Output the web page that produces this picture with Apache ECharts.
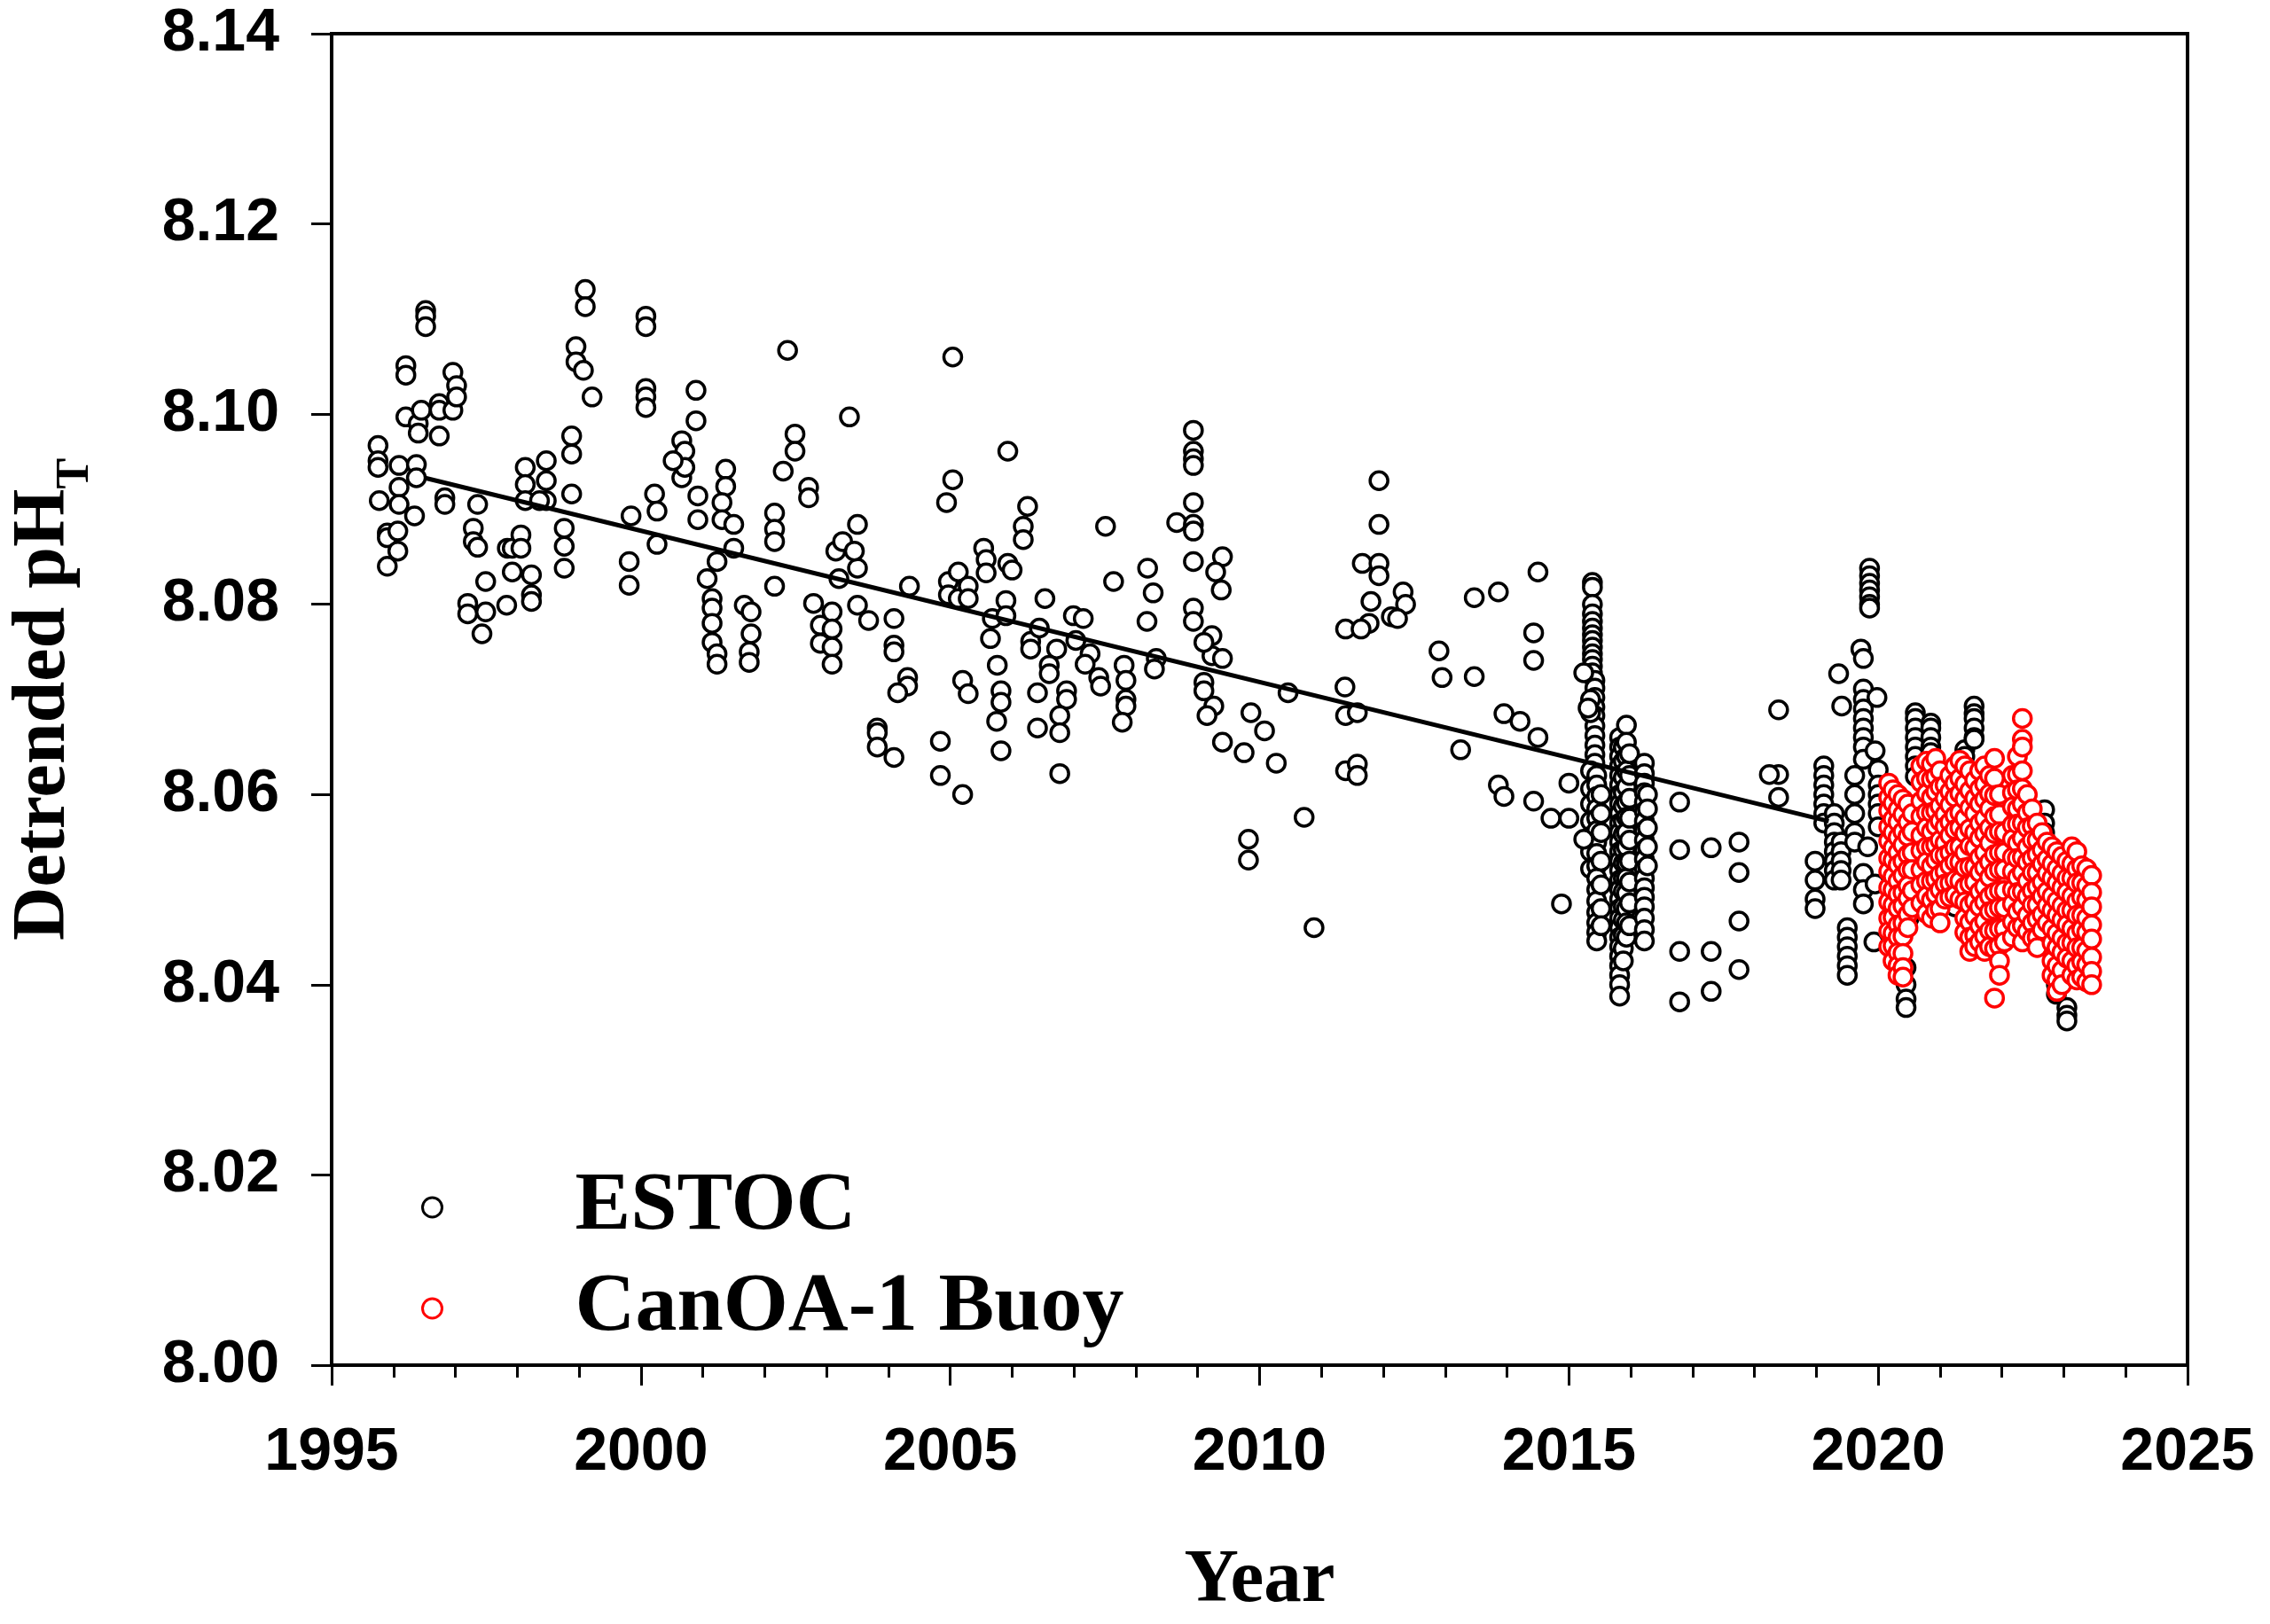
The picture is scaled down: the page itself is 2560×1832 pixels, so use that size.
<!DOCTYPE html>
<html>
<head>
<meta charset="utf-8">
<script src="https://cdn.jsdelivr.net/npm/echarts/dist/echarts.min.js"></script>
<style>
html,body{margin:0;padding:0;background:#fff;}
#chart{width:2560px;height:1832px;}
</style>
</head>
<body>
<div id="chart"></div>
<script>
// ---- data (year, [detrended pH values]) ----
var estocGroups = [
  [1995.75,[8.0967,8.0951,8.0944]],[1995.77,[8.0909]],[1995.90,[8.0875,8.0870,8.0840]],
  [1996.07,[8.0877,8.0856]],[1996.09,[8.0946,8.0923,8.0905]],[1996.20,[8.1051,8.1041,8.0997]],
  [1996.37,[8.0947,8.0933]],[1996.34,[8.0893]],[1996.40,[8.0990,8.0980]],[1996.45,[8.1004]],
  [1996.52,[8.1109,8.1103,8.1092]],[1996.74,[8.1011,8.1004,8.0977]],[1996.83,[8.0912,8.0905]],
  [1996.96,[8.1044,8.1004]],[1997.02,[8.1030,8.1018]],[1997.29,[8.0880,8.0866]],[1997.36,[8.0905,8.0860]],
  [1997.20,[8.0801,8.0790]],[1997.43,[8.0769]],[1997.49,[8.0824,8.0792]],[1997.83,[8.0799]],
  [1997.84,[8.0859]],[1997.92,[8.0859,8.0834]],[1998.06,[8.0873,8.0859]],[1998.23,[8.0831,8.0810,8.0803]],
  [1998.13,[8.0944,8.0926,8.0909]],[1998.47,[8.0951,8.0930,8.0909]],[1998.36,[8.0909]],
  [1998.76,[8.0880,8.0861,8.0838]],[1998.88,[8.0977,8.0958,8.0916]],[1998.95,[8.1071,8.1055]],
  [1999.07,[8.1046]],[1999.21,[8.1018]],[1999.10,[8.1131,8.1113]],[1999.84,[8.0893]],[1999.81,[8.0845,8.0820]],
  [2000.08,[8.1103,8.1092,8.1027,8.1018,8.1007]],[2000.22,[8.0916]],[2000.26,[8.0898,8.0863]],
  [2000.66,[8.0972,8.0933]],[2000.71,[8.0961,8.0944]],[2000.52,[8.0951]],[2000.89,[8.1025,8.0993]],
  [2000.92,[8.0914,8.0889]],[2001.07,[8.0827]],[2001.23,[8.0845]],[2001.15,[8.0806,8.0796,8.0780,8.0760]],
  [2001.23,[8.0748,8.0737]],[2001.37,[8.0942,8.0924]],[2001.31,[8.0907,8.0889]],[2001.50,[8.0884,8.0859]],
  [2001.67,[8.0799]],[2001.78,[8.0792,8.0769]],[2001.75,[8.0750,8.0739]],
  [2002.16,[8.0896,8.0879,8.0866,8.0819]],[2002.30,[8.0940]],[2002.49,[8.0979,8.0961]],[2002.37,[8.1067]],
  [2002.71,[8.0923,8.0912]],[2002.79,[8.0801]],[2002.90,[8.0778,8.0759]],[2003.09,[8.0792,8.0774,8.0755,8.0737]],
  [2003.15,[8.0856]],[2003.20,[8.0827]],[2003.26,[8.0866]],[2003.37,[8.0997]],[2003.50,[8.0884,8.0838,8.0799]],
  [2003.45,[8.0856]],[2003.68,[8.0783]],[2004.09,[8.0785,8.0757,8.0750]],[2004.31,[8.0723,8.0714]],
  [2004.15,[8.0707]],[2003.82,[8.0670,8.0665,8.0650]],[2004.09,[8.0639]],[2004.34,[8.0819]],
  [2004.84,[8.0656,8.0620]],[2004.97,[8.0824,8.0810]],[2005.13,[8.0834,8.0806]],[2005.29,[8.0819,8.0806]],
  [2005.04,[8.1060,8.0931]],[2004.94,[8.0907]],[2005.20,[8.0720,8.0600]],[2005.29,[8.0706]],
  [2005.54,[8.0859]],[2005.58,[8.0847,8.0833]],[2005.68,[8.0785]],[2005.65,[8.0764]],[2005.76,[8.0736]],
  [2005.82,[8.0709,8.0697,8.0646]],[2005.75,[8.0677]],[2005.90,[8.0804,8.0788]],[2005.93,[8.0961,8.0843]],
  [2006.00,[8.0836]],[2006.25,[8.0903]],[2006.18,[8.0882,8.0868]],[2006.30,[8.0761,8.0753]],[2006.44,[8.0775]],
  [2006.53,[8.0806]],[2006.72,[8.0753]],[2006.60,[8.0736,8.0727]],[2006.41,[8.0707,8.0670]],
  [2006.88,[8.0709,8.0700]],[2006.77,[8.0683,8.0665,8.0622]],[2006.99,[8.0788]],[2007.15,[8.0785]],
  [2007.03,[8.0762]],[2007.26,[8.0748]],[2007.18,[8.0737]],[2007.40,[8.0723]],[2007.43,[8.0714]],
  [2007.51,[8.0882]],[2007.64,[8.0824]],[2007.81,[8.0736]],[2007.84,[8.0720,8.0700,8.0693]],[2007.78,[8.0676]],
  [2008.19,[8.0838]],[2008.28,[8.0812]],[2008.18,[8.0782]],[2008.33,[8.0743]],[2008.30,[8.0732]],[2008.66,[8.0886]],
  [2008.93,[8.0983,8.0961,8.0953,8.0946,8.0907,8.0884,8.0877,8.0845,8.0796,8.0782]],
  [2009.23,[8.0767,8.0746]],[2009.10,[8.0760,8.0718,8.0709]],[2009.40,[8.0850,8.0743,8.0655]],
  [2009.29,[8.0834]],[2009.38,[8.0815]],[2009.26,[8.0693]],[2009.15,[8.0683]],[2009.75,[8.0644]],
  [2009.86,[8.0686]],[2009.82,[8.0553,8.0531]],[2010.08,[8.0667]],[2010.27,[8.0633]],[2010.46,[8.0707]],
  [2010.72,[8.0576]],[2010.88,[8.0460]],
  [2011.38,[8.0713]],[2011.39,[8.0774,8.0683,8.0625]],[2011.58,[8.0686,8.0632,8.0620]],[2011.66,[8.0843]],
  [2011.93,[8.0930,8.0884,8.0843,8.0830]],[2011.80,[8.0803]],[2011.77,[8.0780]],[2011.64,[8.0774]],
  [2012.13,[8.0787]],[2012.32,[8.0813]],[2012.36,[8.0800]],[2012.23,[8.0785]],[2012.90,[8.0751]],
  [2012.95,[8.0723]],[2013.47,[8.0807,8.0724]],[2013.86,[8.0813]],[2014.50,[8.0834]],[2014.43,[8.0770,8.0741]],
  [2013.25,[8.0647]],[2013.95,[8.0685]],[2014.21,[8.0677]],[2014.50,[8.0660]],[2013.86,[8.0610]],
  [2013.95,[8.0598]],[2014.43,[8.0593]],[2014.71,[8.0575]],[2015.00,[8.0612,8.0575]],[2014.88,[8.0485]],
  [2015.38,[8.0823,8.0818,8.0800,8.0790,8.0782,8.0775,8.0768,8.0762,8.0755,8.0748,8.0742,8.0735,8.0728]],
  [2015.42,[8.0720,8.0712,8.0702,8.0692,8.0683,8.0672,8.0662,8.0652,8.0642,8.0633]],
  [2015.35,[8.0700,8.0686,8.0625,8.0606,8.0590,8.0572,8.0556,8.0540,8.0522]],
  [2015.45,[8.0620,8.0610,8.0598,8.0585,8.0575,8.0562,8.0550,8.0538,8.0525,8.0512,8.0500,8.0488,8.0476,8.0465,8.0455,8.0446]],
  [2015.52,[8.0600,8.0580,8.0560,8.0530,8.0505,8.0480,8.0462]],
  [2015.24,[8.0728,8.0553]],[2015.31,[8.0691]],
  [2015.82,[8.0660,8.0650,8.0640,8.0630,8.0620,8.0610,8.0600,8.0590,8.0580,8.0570,8.0560,8.0550,8.0540,8.0530,8.0520,8.0510,8.0500,8.0490,8.0480,8.0470,8.0460,8.0450,8.0440,8.0430,8.0420,8.0410,8.0400,8.0388]],
  [2015.88,[8.0650,8.0635,8.0618,8.0602,8.0588,8.0572,8.0558,8.0542,8.0528,8.0512,8.0498,8.0482,8.0468,8.0452,8.0438,8.0425]],
  [2015.93,[8.0673,8.0655,8.0640,8.0625,8.0608,8.0592,8.0576,8.0560,8.0545,8.0528,8.0512,8.0496,8.0480,8.0465,8.0450]],
  [2015.98,[8.0643,8.0620,8.0596,8.0575,8.0552,8.0530,8.0508,8.0486,8.0462]],
  [2016.22,[8.0633,8.0622,8.0612,8.0602,8.0592,8.0582,8.0572,8.0562,8.0552,8.0542,8.0532,8.0522,8.0512,8.0502,8.0492,8.0482,8.0470,8.0458,8.0446]],
  [2016.27,[8.0600,8.0585,8.0565,8.0545,8.0525]],
  [2016.79,[8.0592,8.0542,8.0435,8.0382]],[2017.30,[8.0544,8.0435,8.0393]],[2017.75,[8.0550,8.0518,8.0467,8.0416]],
  [2018.39,[8.0689,8.0621,8.0597]],[2018.24,[8.0621]],
  [2018.98,[8.0530,8.0510,8.0490,8.0480]],[2019.12,[8.0630,8.0620,8.0610,8.0600,8.0590,8.0580,8.0570]],
  [2019.29,[8.0580,8.0570,8.0560,8.0550,8.0540,8.0530,8.0520,8.0510]],[2019.40,[8.0550,8.0540,8.0530,8.0520,8.0510]],
  [2019.36,[8.0727]],[2019.41,[8.0693]],[2019.50,[8.0460,8.0450,8.0440,8.0430,8.0420,8.0410]],
  [2019.62,[8.0620,8.0600,8.0580,8.0560,8.0550]],[2019.72,[8.0753]],
  [2019.76,[8.0743,8.0711,8.0700,8.0690,8.0680,8.0670,8.0660,8.0650,8.0637,8.0517,8.0500,8.0485]],
  [2019.83,[8.0545]],[2019.86,[8.0838,8.0830,8.0822,8.0815,8.0808,8.0800,8.0796]],[2019.93,[8.0445]],
  [2019.95,[8.0646,8.0506]],[2019.98,[8.0702]],[2020.00,[8.0626,8.0610,8.0600,8.0590,8.0580,8.0566]],
  [2020.45,[8.0418,8.0400,8.0385,8.0376]],[2020.50,[8.0560,8.0530,8.0500,8.0470]],
  [2020.60,[8.0686,8.0680,8.0670,8.0660,8.0650,8.0640,8.0630,8.0619]],
  [2020.85,[8.0675,8.0670,8.0660,8.0650,8.0644]],[2021.10,[8.0600,8.0570,8.0540]],[2021.24,[8.0482]],
  [2021.40,[8.0647,8.0640,8.0630,8.0620,8.0612]],[2021.55,[8.0693,8.0685,8.0680,8.0670,8.0660,8.0658]],
  [2021.90,[8.0560,8.0520]],[2022.40,[8.0540,8.0500]],
  [2022.64,[8.0450]],[2022.69,[8.0584,8.0570,8.0560,8.0549]],[2022.88,[8.0407,8.0400,8.0390]],
  [2023.05,[8.0376,8.0368,8.0362]]
];
var buoyGroups = [
  [2020.17,[8.0612,8.0597,8.0583,8.0566,8.0551,8.0533,8.0519,8.0502,8.0487,8.0470,8.0456,8.0440]],
  [2020.24,[8.0605,8.0591,8.0574,8.0560,8.0544,8.0531,8.0514,8.0500,8.0484,8.0471,8.0454,8.0441,8.0425]],
  [2020.32,[8.0600,8.0584,8.0571,8.0555,8.0539,8.0526,8.0509,8.0495,8.0480,8.0463,8.0450,8.0434,8.0420,8.0410]],
  [2020.40,[8.0595,8.0579,8.0561,8.0547,8.0530,8.0515,8.0497,8.0483,8.0465,8.0451,8.0433,8.0418,8.0408]],
  [2020.48,[8.0590,8.0571,8.0556,8.0537,8.0521,8.0504,8.0491,8.0474,8.0460]],
  [2020.55,[8.0580,8.0561,8.0539,8.0521,8.0499,8.0481]],
  [2020.69,[8.0630,8.0613,8.0593,8.0577,8.0557,8.0541,8.0521,8.0505,8.0486]],
  [2020.78,[8.0635,8.0617,8.0601,8.0581,8.0565,8.0545,8.0529,8.0509,8.0493,8.0475]],
  [2020.86,[8.0632,8.0616,8.0597,8.0581,8.0561,8.0545,8.0525,8.0509,8.0489,8.0470]],
  [2020.93,[8.0638,8.0619,8.0603,8.0583,8.0567,8.0547,8.0531,8.0511,8.0495,8.0478]],
  [2021.00,[8.0625,8.0608,8.0588,8.0572,8.0552,8.0536,8.0516,8.0500,8.0480,8.0465]],
  [2021.08,[8.0610,8.0596,8.0579,8.0566,8.0549,8.0536,8.0519,8.0506,8.0490]],
  [2021.16,[8.0620,8.0603,8.0589,8.0571,8.0557,8.0539,8.0525,8.0507,8.0492]],
  [2021.24,[8.0630,8.0612,8.0597,8.0578,8.0563,8.0544,8.0529,8.0510,8.0494]],
  [2021.32,[8.0636,8.0617,8.0601,8.0581,8.0565,8.0545,8.0529,8.0509,8.0490]],
  [2021.40,[8.0630,8.0611,8.0595,8.0575,8.0559,8.0539,8.0523,8.0503,8.0487,8.0470,8.0455]],
  [2021.48,[8.0625,8.0604,8.0586,8.0564,8.0546,8.0524,8.0506,8.0484,8.0466,8.0450,8.0435]],
  [2021.56,[8.0615,8.0596,8.0580,8.0560,8.0544,8.0524,8.0508,8.0488,8.0472,8.0452,8.0440]],
  [2021.64,[8.0625,8.0606,8.0590,8.0570,8.0554,8.0534,8.0518,8.0498,8.0482,8.0462,8.0445]],
  [2021.72,[8.0630,8.0611,8.0595,8.0575,8.0559,8.0539,8.0523,8.0503,8.0487,8.0467,8.0451,8.0435]],
  [2021.80,[8.0620,8.0601,8.0585,8.0565,8.0549,8.0529,8.0513,8.0493,8.0477,8.0457,8.0440]],
  [2021.88,[8.0638,8.0617,8.0599,8.0577,8.0559,8.0537,8.0519,8.0497,8.0479,8.0457,8.0438,8.0386]],
  [2021.96,[8.0600,8.0579,8.0561,8.0539,8.0521,8.0499,8.0481,8.0459,8.0441,8.0425,8.0410]],
  [2022.04,[8.0560,8.0539,8.0521,8.0499,8.0481,8.0459,8.0445]],
  [2022.17,[8.0620,8.0602,8.0587,8.0568,8.0553,8.0534,8.0519,8.0500,8.0485,8.0466,8.0450]],
  [2022.25,[8.0640,8.0621,8.0605,8.0585,8.0569,8.0549,8.0533,8.0513,8.0497,8.0477,8.0460]],
  [2022.33,[8.0680,8.0658,8.0650,8.0625,8.0606,8.0590,8.0570,8.0554,8.0534,8.0518,8.0498,8.0482,8.0462,8.0445]],
  [2022.41,[8.0600,8.0581,8.0565,8.0545,8.0529,8.0509,8.0493,8.0473,8.0456]],
  [2022.49,[8.0585,8.0567,8.0552,8.0533,8.0518,8.0499,8.0484,8.0465,8.0449]],
  [2022.57,[8.0570,8.0552,8.0537,8.0518,8.0503,8.0484,8.0469,8.0450,8.0439]],
  [2022.65,[8.0560,8.0542,8.0527,8.0508,8.0493,8.0474,8.0458]],
  [2022.73,[8.0550,8.0532,8.0517,8.0498,8.0483,8.0465]],
  [2022.81,[8.0545,8.0527,8.0512,8.0493,8.0478,8.0459,8.0444,8.0425,8.0410]],
  [2022.89,[8.0540,8.0522,8.0507,8.0488,8.0473,8.0454,8.0439,8.0420,8.0405,8.0393]],
  [2022.97,[8.0535,8.0517,8.0502,8.0483,8.0468,8.0449,8.0434,8.0415,8.0400]],
  [2023.05,[8.0530,8.0512,8.0497,8.0478,8.0463,8.0444,8.0428]],
  [2023.13,[8.0545,8.0527,8.0512,8.0493,8.0478,8.0459,8.0444,8.0425,8.0410]],
  [2023.21,[8.0540,8.0522,8.0507,8.0488,8.0473,8.0454,8.0439,8.0420,8.0405]],
  [2023.29,[8.0525,8.0507,8.0492,8.0473,8.0458,8.0439,8.0424,8.0408]],
  [2023.37,[8.0522,8.0504,8.0489,8.0470,8.0455,8.0436,8.0421,8.0403]],
  [2023.45,[8.0515,8.0497,8.0482,8.0463,8.0448,8.0429,8.0414,8.0400]]
];
var trendYears = [1996.5, 2019.2];
var trendValues = [8.0933, 8.0572];
var yTicks = [8.00, 8.02, 8.04, 8.06, 8.08, 8.10, 8.12, 8.14];
var xTicks = [1995, 2000, 2005, 2010, 2015, 2020, 2025];

function flatten(groups){
  var out = [];
  groups.forEach(function(g){ g[1].forEach(function(v){ out.push([g[0], v]); }); });
  return out;
}
var estocData = flatten(estocGroups);
var buoyData = flatten(buoyGroups);
var trendData = trendYears.map(function(y,i){ return [y, trendValues[i]]; });

var sans = 'Liberation Sans, Arial, sans-serif';
var serif = 'Liberation Serif, Times New Roman, serif';

var chart = echarts.init(document.getElementById('chart'));
chart.setOption({
  animation: false,
  backgroundColor: '#ffffff',
  grid: {left: 365, right: 93, top: 38, bottom: 276, show: true, borderColor: '#000', borderWidth: 4, backgroundColor: 'transparent'},
  legend: {
    orient: 'vertical', left: 470, top: 1310, itemWidth: 22, itemHeight: 22, itemGap: 20,
    selectedMode: false,
    textStyle: {fontFamily: serif, fontWeight: 'bold', fontSize: 94, color: '#000', lineHeight: 94, padding: [0,0,0,145]},
    data: [
      {name: 'ESTOC', icon: 'circle', itemStyle: {color: '#fff', borderColor: '#000', borderWidth: 3}},
      {name: 'CanOA-1 Buoy', icon: 'circle', itemStyle: {color: '#fff', borderColor: '#ff0000', borderWidth: 3}}
    ]
  },
  xAxis: {
    type: 'value', min: xTicks[0], max: xTicks[xTicks.length-1], interval: 5,
    name: 'Year', nameLocation: 'middle', nameGap: 202,
    nameTextStyle: {fontFamily: serif, fontWeight: 'bold', fontSize: 85, color: '#000'},
    axisLine: {show: true, lineStyle: {color: '#000', width: 4}},
    axisTick: {show: true, inside: false, length: 23, lineStyle: {color: '#000', width: 3}},
    minorTick: {show: true, splitNumber: 5, length: 14, lineStyle: {color: '#000', width: 3}},
    splitLine: {show: false},
    axisLabel: {margin: 65, fontFamily: sans, fontWeight: 'bold', fontSize: 68, color: '#000',
      formatter: function(v){ return String(Math.round(v)); }}
  },
  yAxis: {
    type: 'value', min: yTicks[0], max: yTicks[yTicks.length-1], interval: 0.02,
    name: '{a|Detrended pH}{b|T}', nameLocation: 'middle', nameGap: 262,
    nameTextStyle: {
      rich: {
        a: {fontFamily: serif, fontWeight: 'bold', fontSize: 84, color: '#000', verticalAlign: 'bottom', padding: [0,0,20,0]},
        b: {fontFamily: serif, fontWeight: 'bold', fontSize: 52, color: '#000', verticalAlign: 'bottom'}
      }
    },
    axisLine: {show: true, lineStyle: {color: '#000', width: 4}},
    axisTick: {show: true, inside: false, length: 23, lineStyle: {color: '#000', width: 3}},
    splitLine: {show: false},
    axisLabel: {margin: 59, fontFamily: sans, fontWeight: 'bold', fontSize: 68, color: '#000',
      formatter: function(v){ return v.toFixed(2); }}
  },
  series: [
    {name: 'ESTOC', type: 'scatter', data: estocData, symbol: 'circle', symbolSize: 20,
     itemStyle: {color: '#fff', borderColor: '#000', borderWidth: 3.5, opacity: 1}, z: 2, large: false},
    {name: 'CanOA-1 Buoy', type: 'scatter', data: buoyData, symbol: 'circle', symbolSize: 20,
     itemStyle: {color: '#fff', borderColor: '#ff0000', borderWidth: 3.5, opacity: 1}, z: 3, large: false},
    {name: 'Trend', type: 'line', data: trendData, showSymbol: false, symbol: 'none',
     lineStyle: {color: '#000', width: 5}, z: 4, silent: true}
  ]
});
</script>
</body>
</html>
